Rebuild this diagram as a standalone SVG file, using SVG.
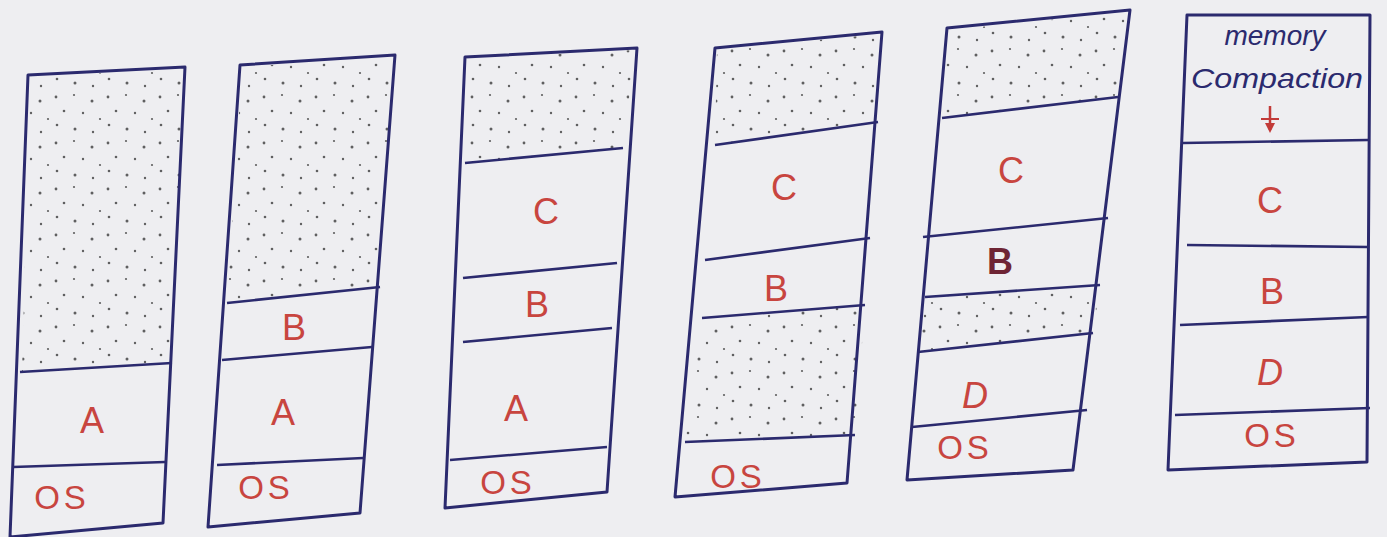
<svg xmlns="http://www.w3.org/2000/svg" width="1387" height="537" viewBox="0 0 1387 537">
<defs>
<pattern id="dots" width="52" height="46" patternUnits="userSpaceOnUse">
<circle cx="4" cy="5" r="1.4"/><circle cx="22" cy="3" r="1.1"/><circle cx="40" cy="9" r="1.5"/>
<circle cx="12" cy="19" r="1.3"/><circle cx="31" cy="21" r="1.2"/><circle cx="48" cy="27" r="1.1"/>
<circle cx="5" cy="33" r="1.3"/><circle cx="23" cy="37" r="1.5"/><circle cx="41" cy="40" r="1.2"/>
</pattern>
<marker id="ah" viewBox="0 0 10 10" refX="7" refY="5" markerWidth="4" markerHeight="4" orient="auto">
<path d="M0,0 L10,5 L0,10 Z" fill="#c23a38"/>
</marker>
</defs>
<style>
.col{fill:none;stroke:#2b2a6e;stroke-width:3;stroke-linejoin:round}
.div{stroke:#2b2a6e;stroke-width:2.6;fill:none}
.st{fill:url(#dots);fill-opacity:0.6;stroke:none}
.lbl{font-family:"Liberation Sans",Arial,sans-serif;font-size:36px;fill:#c8453f;text-anchor:middle}
.os{font-family:"Liberation Sans",Arial,sans-serif;font-size:33px;fill:#c8453f;text-anchor:middle;letter-spacing:4px}
.note{font-family:"Liberation Sans",Arial,sans-serif;font-size:28px;fill:#2b2a6e;text-anchor:middle;font-style:italic}
</style>
<rect width="1387" height="537" fill="#eeeef1"/>
<g fill="#4a4a55">
<g id="col1">
<polygon class="st" points="30,77 183,69 172,363 22,372"/>
<polygon class="col" points="28,75 185,67 163,523 10,537"/>
<line class="div" x1="20" y1="372" x2="172" y2="363"/>
<line class="div" x1="13" y1="467" x2="165" y2="462"/>
<text class="lbl" x="92" y="433">A</text>
<text class="os" x="62" y="509">OS</text>
</g>
<g id="col2">
<polygon class="st" points="242,67 393,57 380,287 227,303"/>
<polygon class="col" points="240,65 395,55 360,513 208,527"/>
<line class="div" x1="227" y1="303" x2="380" y2="287"/>
<line class="div" x1="222" y1="360" x2="372" y2="347"/>
<line class="div" x1="217" y1="465" x2="363" y2="458"/>
<text class="lbl" x="294" y="340">B</text>
<text class="lbl" x="283" y="425">A</text>
<text class="os" x="266" y="499">OS</text>
</g>
<g id="col3">
<polygon class="st" points="467,59 635,50 623,148 465,163"/>
<polygon class="col" points="465,57 637,48 607,492 445,508"/>
<line class="div" x1="465" y1="163" x2="623" y2="148"/>
<line class="div" x1="463" y1="278" x2="617" y2="263"/>
<line class="div" x1="463" y1="342" x2="612" y2="328"/>
<line class="div" x1="450" y1="460" x2="607" y2="447"/>
<text class="lbl" x="546" y="224">C</text>
<text class="lbl" x="537" y="317">B</text>
<text class="lbl" x="516" y="421">A</text>
<text class="os" x="508" y="494">OS</text>
</g>
<g id="col4">
<polygon class="st" points="717,50 880,34 878,122 715,145"/>
<polygon class="st" points="702,318 865,305 855,435 685,442"/>
<polygon class="col" points="715,48 882,32 847,483 675,497"/>
<line class="div" x1="715" y1="145" x2="878" y2="122"/>
<line class="div" x1="705" y1="260" x2="870" y2="238"/>
<line class="div" x1="702" y1="318" x2="865" y2="305"/>
<line class="div" x1="685" y1="442" x2="855" y2="435"/>
<text class="lbl" x="784" y="200">C</text>
<text class="lbl" x="776" y="301">B</text>
<text class="os" x="738" y="488">OS</text>
</g>
<g id="col5">
<polygon class="st" points="949,30 1128,12 1118,97 942,118"/>
<polygon class="st" points="925,297 1100,285 1093,333 918,352"/>
<polygon class="col" points="947,28 1130,10 1073,470 907,480"/>
<line class="div" x1="942" y1="118" x2="1118" y2="97"/>
<line class="div" x1="923" y1="237" x2="1108" y2="218"/>
<line class="div" x1="925" y1="297" x2="1100" y2="285"/>
<line class="div" x1="918" y1="352" x2="1093" y2="333"/>
<line class="div" x1="912" y1="427" x2="1087" y2="410"/>
<text class="lbl" x="1011" y="183">C</text>
<text class="lbl" x="1000" y="274" style="fill:#6e2434;font-weight:bold">B</text>
<text class="lbl" x="975" y="408" style="font-style:italic">D</text>
<text class="os" x="965" y="459">OS</text>
</g>
<g id="col6">
<polygon class="col" points="1187,15 1370,15 1367,462 1168,470"/>
<line class="div" x1="1183" y1="143" x2="1368" y2="140"/>
<line class="div" x1="1187" y1="245" x2="1368" y2="247"/>
<line class="div" x1="1180" y1="325" x2="1368" y2="317"/>
<line class="div" x1="1175" y1="415" x2="1370" y2="408"/>
<text class="note" x="1275" y="45">memory</text>
<text class="note" x="1277" y="88" textLength="172" lengthAdjust="spacingAndGlyphs">Compaction</text>
<line x1="1270" y1="106" x2="1270" y2="130" stroke="#c23a38" stroke-width="2.5" marker-end="url(#ah)"/>
<line x1="1261" y1="119" x2="1279" y2="119" stroke="#c23a38" stroke-width="2"/>
<text class="lbl" x="1270" y="213">C</text>
<text class="lbl" x="1272" y="304">B</text>
<text class="lbl" x="1270" y="385" style="font-style:italic">D</text>
<text class="os" x="1272" y="447">OS</text>
</g>
</g>
</svg>
